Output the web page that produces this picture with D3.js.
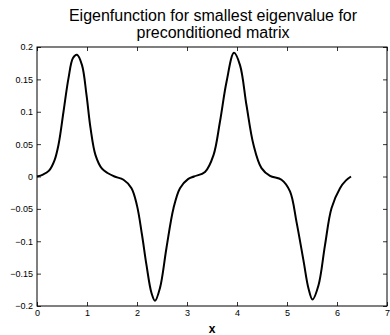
<!DOCTYPE html>
<html>
<head>
<meta charset="utf-8">
<script src="https://cdn.jsdelivr.net/npm/d3@7"></script>
<style>
  body { margin: 0; background: #fff; }
  svg { display: block; font-family: "Liberation Sans", Arial, sans-serif; }
  .axis path { display: none; }
  .axis line { stroke: #000; stroke-width: 0.8; }
  .axis text { font-size: 9px; fill: #000; }
</style>
</head>
<body>
<script>
// values
var xs = [0, 0.12, 0.24, 0.35, 0.43, 0.53, 0.63, 0.72, 0.8, 0.9, 0.99, 1.07, 1.17, 1.3, 1.42, 1.55,
          1.73, 1.89, 2.0, 2.1, 2.19, 2.29, 2.36, 2.46, 2.59, 2.73, 2.86, 3.02, 3.14, 3.36, 3.53,
          3.66, 3.79, 3.94, 4.06, 4.19, 4.33, 4.49, 4.66, 4.89, 5.06, 5.19, 5.33, 5.43, 5.51,
          5.63, 5.76, 5.89, 6.06, 6.18, 6.28];
var ys = [0, 0.003, 0.009, 0.025, 0.049, 0.10, 0.152, 0.183, 0.188, 0.172, 0.126, 0.075, 0.033, 0.012, 0.005, 0,
          -0.005, -0.018, -0.045, -0.09, -0.137, -0.18, -0.192, -0.172, -0.11, -0.049, -0.018, -0.004, 0, 0.007, 0.033,
          0.085, 0.146, 0.191, 0.172, 0.11, 0.049, 0.013, 0.001, -0.005, -0.023, -0.07, -0.13, -0.173, -0.19,
          -0.168, -0.106, -0.049, -0.018, -0.006, 0];
var xTicks = [0, 1, 2, 3, 4, 5, 6, 7];
var yTicks = [-0.2, -0.15, -0.1, -0.05, 0, 0.05, 0.1, 0.15, 0.2];
var titleLines = ["Eigenfunction for smallest eigenvalue for", "preconditioned matrix"];
var xLabel = "x";

var w = 390, h = 335;
var padL = 37, padR = 387, padT = 47, padB = 306;

var svg = d3.select("body").append("svg")
    .attr("width", w)
    .attr("height", h);

var xScale = d3.scaleLinear().domain([0, 7]).range([padL, padR]);
var yScale = d3.scaleLinear().domain([-0.2, 0.2]).range([padB, padT]);

function fmt(d) {
    return d < 0 ? "\u2212" + String(-d) : String(d);
}

// bottom axis with labels, ticks pointing in
var xAxis = d3.axisBottom(xScale).tickValues(xTicks).tickFormat(fmt)
    .tickSizeInner(-4).tickSizeOuter(0).tickPadding(4);
svg.append("g")
    .attr("class", "axis")
    .attr("transform", "translate(0," + padB + ")")
    .call(xAxis);

var yAxis = d3.axisLeft(yScale).tickValues(yTicks).tickFormat(fmt)
    .tickSizeInner(-4).tickSizeOuter(0).tickPadding(4);
svg.append("g")
    .attr("class", "axis")
    .attr("transform", "translate(" + padL + ",0)")
    .call(yAxis);

// top and right ticks, no labels
svg.append("g")
    .attr("class", "axis")
    .attr("transform", "translate(0," + padT + ")")
    .call(d3.axisTop(xScale).tickValues(xTicks).tickFormat("").tickSizeInner(-4).tickSizeOuter(0));
svg.append("g")
    .attr("class", "axis")
    .attr("transform", "translate(" + padR + ",0)")
    .call(d3.axisRight(yScale).tickValues(yTicks).tickFormat("").tickSizeInner(-4).tickSizeOuter(0));

// box
svg.append("rect")
    .attr("x", padL).attr("y", padT)
    .attr("width", padR - padL).attr("height", padB - padT)
    .attr("fill", "none").attr("stroke", "#000").attr("stroke-width", 1);

// curve
var line = d3.line()
    .x(function (d, i) { return xScale(xs[i]); })
    .y(function (d, i) { return yScale(ys[i]); })
    .curve(d3.curveCatmullRom.alpha(0.5));

svg.append("path")
    .datum(xs)
    .attr("d", line)
    .attr("fill", "none")
    .attr("stroke", "#000")
    .attr("stroke-width", 2);

// title
svg.selectAll(".title")
    .data(titleLines)
    .enter().append("text")
    .attr("class", "title")
    .attr("x", (padL + padR) / 2 + 1)
    .attr("y", function (d, i) { return 21 + i * 17; })
    .attr("text-anchor", "middle")
    .attr("font-size", 16)
    .text(function (d) { return d; });

svg.append("text")
    .attr("x", (padL + padR) / 2)
    .attr("y", 333)
    .attr("text-anchor", "middle")
    .attr("font-size", 12)
    .attr("font-weight", "bold")
    .text(xLabel);
</script>
</body>
</html>
